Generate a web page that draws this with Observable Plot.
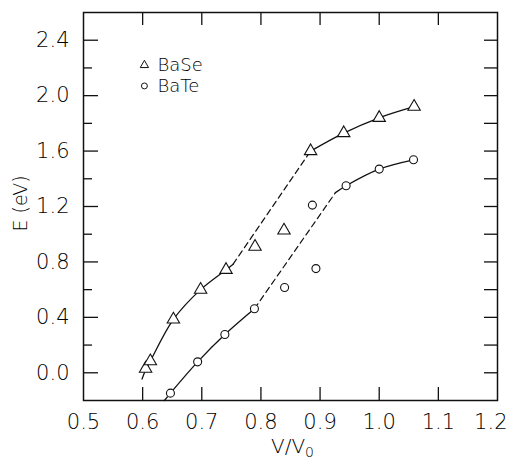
<!DOCTYPE html>
<html>
<head>
<meta charset="utf-8">
<script src="https://cdn.jsdelivr.net/npm/d3@7"></script>
<script src="https://cdn.jsdelivr.net/npm/@observablehq/plot@0.6"></script>
<style>
  html, body { margin: 0; padding: 0; background: #fff; }
  #chart svg { display: block; }
  #chart svg text { font-weight: 200; }
</style>
</head>
<body>
<div id="chart"></div>
<script>
// ---- data ----
const baseV = [0.605, 0.613, 0.652, 0.698, 0.741, 0.790, 0.839, 0.884, 0.940, 1.000, 1.059];
const baseE = [0.03, 0.084, 0.385, 0.60, 0.743, 0.91, 1.027, 1.60, 1.73, 1.84, 1.92];
const bateV = [0.647, 0.693, 0.739, 0.789, 0.840, 0.887, 0.893, 0.944, 1.000, 1.058];
const bateE = [-0.147, 0.079, 0.276, 0.462, 0.615, 1.21, 0.752, 1.35, 1.47, 1.537];

// guide curves drawn through the points (solid) and joining branches (dashed)
const baseLowV  = [0.599, 0.605, 0.613, 0.652, 0.698, 0.741, 0.753];
const baseLowE  = [-0.045, 0.02, 0.084, 0.385, 0.60, 0.743, 0.784];
const baseDashV = [0.753, 0.884];
const baseDashE = [0.784, 1.60];
const baseHighV = [0.884, 0.940, 1.000, 1.059];
const baseHighE = [1.60, 1.73, 1.84, 1.92];

const bateLowV  = [0.637, 0.647, 0.693, 0.739, 0.789];
const bateLowE  = [-0.2, -0.147, 0.079, 0.276, 0.462];
const bateDashV = [0.789, 0.926];
const bateDashE = [0.462, 1.30];
const bateHighV = [0.926, 0.944, 1.000, 1.058];
const bateHighE = [1.30, 1.35, 1.47, 1.537];

const xTicks = [0.5, 0.6, 0.7, 0.8, 0.9, 1.0, 1.1];
const xLastTick = [1.2];
const xInnerTicks = [0.6, 0.7, 0.8, 0.9, 1.0, 1.1];
const yMajor = [0.0, 0.4, 0.8, 1.2, 1.6, 2.0, 2.4];
const yMinor = [0.2, 0.6, 1.0, 1.4, 1.8, 2.2];
const yRight = [0.0, 0.2, 0.4, 0.6, 0.8, 1.0, 1.2, 1.4, 1.6, 1.8, 2.0, 2.2, 2.4];

const legendLabels = ["BaSe", "BaTe"];
const legendSymbols = ["triangle", "circle"];

// ---- build tables ----
const zip = (xs, ys) => xs.map((x, i) => ({x, y: ys[i]}));
const basePts = zip(baseV, baseE);
const batePts = zip(bateV, bateE);

const W = 508, H = 463;
const mL = 83, mR = 11, mT = 12, mB = 63;
const fw = W - mL - mR, fh = H - mT - mB;

const font = "'DejaVu Sans', 'Liberation Sans', sans-serif";
const ink = "#000";

const legend = legendLabels.map((label, i) => ({label, symbol: legendSymbols[i], y: 2.22 - i * 0.15}));

const plot = Plot.plot({
  width: W,
  height: H,
  marginLeft: mL, marginRight: mR, marginTop: mT, marginBottom: mB,
  style: {fontFamily: font, fontSize: "20px", color: ink, background: "#fff"},
  x: {domain: [0.5, 1.2]},
  y: {domain: [-0.2, 2.6]},
  marks: [
    // curves
    Plot.line(zip(baseLowV, baseLowE), {x: "x", y: "y", curve: "catmull-rom", stroke: "#111", strokeWidth: 1.3}),
    Plot.line(zip(baseDashV, baseDashE), {x: "x", y: "y", stroke: "#111", strokeWidth: 1.2, strokeDasharray: "6,4"}),
    Plot.line(zip(baseHighV, baseHighE), {x: "x", y: "y", curve: "catmull-rom", stroke: "#111", strokeWidth: 1.3}),
    Plot.line(zip(bateLowV, bateLowE), {x: "x", y: "y", curve: "catmull-rom", stroke: "#111", strokeWidth: 1.3}),
    Plot.line(zip(bateDashV, bateDashE), {x: "x", y: "y", stroke: "#111", strokeWidth: 1.2, strokeDasharray: "6,4"}),
    Plot.line(zip(bateHighV, bateHighE), {x: "x", y: "y", curve: "catmull-rom", stroke: "#111", strokeWidth: 1.3}),
    // points
    Plot.dot(basePts, {x: "x", y: "y", symbol: "triangle", r: 4.6, stroke: "#111", fill: "white", strokeWidth: 1.1}),
    Plot.dot(batePts, {x: "x", y: "y", symbol: "circle", r: 4, stroke: "#111", fill: "white", strokeWidth: 1.1}),
    // frame and ticks
    Plot.frame({stroke: "#111", strokeWidth: 1.5}),
    Plot.ruleY(yMajor, {y: d => d, insetRight: fw - 15, stroke: "#111", strokeWidth: 1.3}),
    Plot.ruleY(yMinor, {y: d => d, insetRight: fw - 9, stroke: "#111", strokeWidth: 1.3}),
    Plot.ruleY(yRight, {y: d => d, insetLeft: fw - 13, stroke: "#111", strokeWidth: 1.3}),
    Plot.ruleX(xInnerTicks, {x: d => d, insetTop: fh - 13, stroke: "#111", strokeWidth: 1.3}),
    Plot.ruleX(xInnerTicks, {x: d => d, insetBottom: fh - 13, stroke: "#111", strokeWidth: 1.3}),
    // tick labels
    Plot.axisX({ticks: xTicks, tickSize: 0, tickPadding: 14, tickFormat: d3.format(".1f"), label: null, fontSize: 21, fill: ink}),
    Plot.axisX({ticks: xLastTick, tickSize: 0, tickPadding: 14, tickFormat: d3.format(".1f"), label: null, fontSize: 21, fill: ink, textAnchor: "end", dx: 10}),
    Plot.axisY({ticks: yMajor, tickSize: 0, tickPadding: 14, tickFormat: d3.format(".1f"), label: null, fontSize: 21, fill: ink}),
    // axis titles
    Plot.text(["E (eV)"], {frameAnchor: "left", dx: -63, dy: 25, rotate: -90, fontSize: 19, fill: ink, className: "ytitle"}),
    Plot.text(["V/V0"], {frameAnchor: "bottom", dx: 2, dy: 52, fontSize: 20, fill: ink, className: "xtitle"}),
    // legend
    Plot.dot(legend, {x: () => 0.603, y: "y", symbol: "symbol", r: d => d.symbol === "triangle" ? 3.6 : 3.3, stroke: "#111", fill: "white", strokeWidth: 1}),
    Plot.text(legend, {x: () => 0.603, y: "y", text: "label", dx: 13, textAnchor: "start", fontSize: 18, fill: ink})
  ]
});
// subscript for V/V0
d3.select(plot).selectAll(".xtitle text").each(function() {
  const t = d3.select(this);
  t.text("V/V");
  t.append("tspan").attr("dy", "4").attr("font-size", "14").text("0");
});
document.getElementById("chart").appendChild(plot);
</script>
</body>
</html>
